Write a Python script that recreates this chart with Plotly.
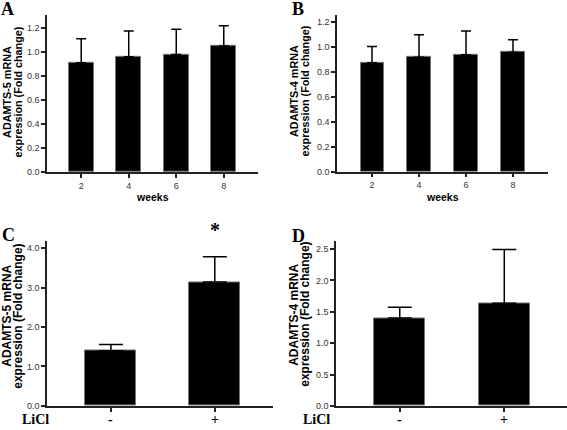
import plotly.graph_objects as go

# ---- data ----
weeks = ["2", "4", "6", "8"]
a_mean = [0.91, 0.96, 0.98, 1.05]
a_upper = [1.11, 1.175, 1.19, 1.22]
b_mean = [0.875, 0.92, 0.94, 0.96]
b_upper = [1.005, 1.10, 1.13, 1.06]
licl = ["-", "+"]
c_mean = [1.40, 3.14]
c_upper = [1.56, 3.78]
d_mean = [1.40, 1.635]
d_upper = [1.57, 2.49]

W, H = 567, 430
def px(x): return x / W
def py(y): return 1 - y / H

fig = go.Figure()

def bar(xs, m, u, xa, ya, width, capw):
    fig.add_trace(go.Bar(
        x=xs, y=m, xaxis=xa, yaxis=ya, width=width,
        marker=dict(color="black", line=dict(color="#777777", width=1)),
        error_y=dict(type="data", symmetric=False,
                     array=[uu - mm for uu, mm in zip(u, m)],
                     arrayminus=[0] * len(m),
                     color="black", thickness=1.5, width=capw),
        showlegend=False, hoverinfo="skip"))

bar(weeks, a_mean, a_upper, "x", "y", 0.52, 5)
bar(weeks, b_mean, b_upper, "x2", "y2", 0.49, 5)
bar(licl, c_mean, c_upper, "x3", "y3", 0.49, 12)
bar(licl, d_mean, d_upper, "x4", "y4", 0.485, 12)

tickfont = dict(family="Liberation Sans, Arial", size=9, color="#333333")
def xax(dom, rng, ydom_anchor, show=True):
    return dict(domain=dom, range=rng, type="category", anchor=ydom_anchor,
                showline=True, linecolor="#222222", linewidth=1.5,
                ticks="outside", ticklen=4, tickcolor="#222222", tickwidth=1.5,
                showticklabels=show,
                tickfont=tickfont, showgrid=False, zeroline=False, fixedrange=True)
def yax(dom, rng, dtick, xanchor):
    return dict(domain=dom, range=rng, anchor=xanchor, dtick=dtick, tick0=0,
                tickformat=".1f",
                showline=True, linecolor="#222222", linewidth=1.5,
                ticks="outside", ticklen=4, tickcolor="#222222", tickwidth=1.5,
                tickfont=tickfont, showgrid=False, zeroline=False, fixedrange=True)

fig.update_layout(
    width=W, height=H, margin=dict(l=0, r=0, t=0, b=0),
    paper_bgcolor="white", plot_bgcolor="white", bargap=0,
    xaxis=xax([px(47), px(258)], [-0.72, 3.72], "y"),
    yaxis=yax([py(174), py(15)], [0, 1.31], 0.2, "x"),
    xaxis2=xax([px(337), px(548)], [-0.745, 3.745], "y2"),
    yaxis2=yax([py(173.7), py(15)], [0, 1.26], 0.2, "x2"),
    xaxis3=xax([px(47), px(273)], [-0.615, 1.56], "y3", False),
    yaxis3=yax([py(410.7), py(244.3)], [0, 4.17], 1.0, "x3"),
    xaxis4=xax([px(336), px(567)], [-0.61, 1.6], "y4", False),
    yaxis4=yax([py(410.7), py(244.3)], [0, 2.62], 0.5, "x4"),
)

ann = []
letterfont = dict(family="Liberation Serif, Times New Roman", size=18, color="black")
for t, x, y in [("<b>A</b>", 7, 9), ("<b>B</b>", 298, 9), ("<b>C</b>", 8, 237.5), ("<b>D</b>", 298, 238.5)]:
    ann.append(dict(text=t, x=px(x), y=py(y), xref="paper", yref="paper",
                    showarrow=False, xanchor="center", yanchor="middle", font=letterfont))

def ytitle(l1, l2, x1, x2, yc, size):
    f = dict(family="Liberation Sans, Arial", size=size, color="black")
    for t, x in [(l1, x1), (l2, x2)]:
        ann.append(dict(text="<b>%s</b>" % t, x=px(x), y=py(yc), xref="paper", yref="paper",
                        textangle=-90, showarrow=False, xanchor="center", yanchor="middle", font=f))

ytitle("ADAMTS-5 mRNA", "expression (Fold change)", 7, 17.5, 93, 10.8)
ytitle("ADAMTS-4 mRNA", "expression (Fold change)", 294, 304.5, 92, 10.8)
ytitle("ADAMTS-5 mRNA", "expression (Fold change)", 7.5, 18.5, 320, 12)
ytitle("ADAMTS-4 mRNA", "expression (Fold change)", 294, 305, 318.5, 12)

wf = dict(family="Liberation Sans, Arial", size=10.5, color="black")
ann.append(dict(text="<b>weeks</b>", x=px(152.5), y=py(199), xref="paper", yref="paper",
                showarrow=False, xanchor="center", yanchor="middle", font=wf))
ann.append(dict(text="<b>weeks</b>", x=px(442.5), y=py(199), xref="paper", yref="paper",
                showarrow=False, xanchor="center", yanchor="middle", font=wf))

lf = dict(family="Liberation Serif, Times New Roman", size=14, color="black")
ann.append(dict(text="<b>LiCl</b>", x=px(35), y=0, xref="paper", yref="paper", yshift=-3,
                borderpad=0, showarrow=False, xanchor="center", yanchor="bottom", font=lf))
ann.append(dict(text="<b>LiCl</b>", x=px(316), y=0, xref="paper", yref="paper", yshift=-3,
                borderpad=0, showarrow=False, xanchor="center", yanchor="bottom", font=lf))
for xr in ["x3", "x4"]:
    for lab in licl:
        ann.append(dict(text="<b>%s</b>" % lab, x=lab, y=0, xref=xr, yref="paper", yshift=-3,
                        borderpad=0, showarrow=False, xanchor="center", yanchor="bottom", font=lf))

ann.append(dict(text="<b>*</b>", x="+", y=c_upper[1], xref="x3", yref="y3",
                yshift=27, showarrow=False, xanchor="center", yanchor="middle",
                font=dict(family="Liberation Serif, Times New Roman", size=20, color="black")))

fig.update_layout(annotations=ann)
fig.write_html("out.html", config={"displayModeBar": False},
               post_script="document.body.style.margin='0';document.body.style.padding='0';")
